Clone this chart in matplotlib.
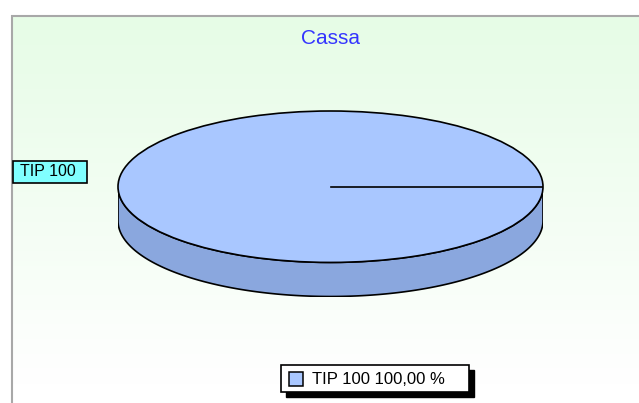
import numpy as np
import matplotlib
matplotlib.use("Agg")
import matplotlib.pyplot as plt
from matplotlib.patches import Polygon, Rectangle

plt.rcParams['font.family'] = ['Liberation Sans', 'DejaVu Sans']

# ---- data ----
title = "Cassa"
categories = ["TIP 100"]
values = [100.0]

TOP_COLOR = "#A9C7FF"
SIDE_COLOR = "#8AA7DE"
LABEL_BG = "#80FFFF"

W, H = 639, 403
fig = plt.figure(figsize=(W / 100, H / 100), dpi=100)
fig.patch.set_facecolor("white")

# background panel in pixel coordinates
bg = fig.add_axes([0, 0, 1, 1])
bg.set_xlim(0, W)
bg.set_ylim(H, 0)
bg.axis("off")
grad = np.linspace(0, 1, 300)
grad = np.clip(grad / 0.95, 0, 1)
top_rgb = np.array([230, 252, 230]) / 255
bot_rgb = np.array([255, 255, 255]) / 255
img = top_rgb[None, None, :] * (1 - grad[:, None, None]) + bot_rgb[None, None, :] * grad[:, None, None]
bg.imshow(img, extent=[11, W, H, 15], aspect="auto", zorder=0)
bg.plot([11.5, 11.5], [H, 15], color="#a8a8a8", lw=1.5, zorder=1, solid_capstyle="butt")
bg.plot([11, W], [15.5, 15.5], color="#a8a8a8", lw=1.5, zorder=1, solid_capstyle="butt")
bg.text(330, 38, title, ha="center", va="center", color="#3434ff", fontsize=15)

# pie category label box
bg.add_patch(Rectangle((12.5, 160.5), 74, 22, facecolor=LABEL_BG, edgecolor="black", lw=1.2, zorder=3))
bg.text(20, 172, categories[0], ha="left", va="center", fontsize=11.5, color="black", zorder=4)

# pie axes (elliptical 3D-looking pie)
depth = 0.45
left_px, right_px, top_px, bottom_px = 118, 543, 111, 296.5
ax = fig.add_axes([left_px / W, (H - bottom_px) / H, (right_px - left_px) / W, (bottom_px - top_px) / H])
ax.patch.set_visible(False)

total = sum(values)
labels_leg = [f"{c} {v / total * 100:.2f} %".replace(".", ",") for c, v in zip(categories, values)]
wedges, _ = ax.pie(values, colors=[TOP_COLOR], startangle=0, counterclock=True,
                   wedgeprops=dict(edgecolor="black", linewidth=1.2, zorder=3))
ax.set_aspect("auto")
ax.set_xlim(-1, 1)
ax.set_ylim(-1 - depth, 1)
ax.axis("off")

# side wall
t = np.linspace(np.pi, 2 * np.pi, 200)
upper = np.column_stack([np.cos(t), np.sin(t)])
lower = np.column_stack([np.cos(t[::-1]), np.sin(t[::-1]) - depth])
side = Polygon(np.vstack([upper, lower]), closed=True, facecolor=SIDE_COLOR,
               edgecolor="black", linewidth=1.2, zorder=2)
ax.add_patch(side)

# slice boundary lines
for w in wedges:
    ang = np.deg2rad(w.theta1)
    ax.plot([0, np.cos(ang)], [0, np.sin(ang)], color="black", lw=1.2, zorder=4)

# legend box with hard shadow (pixel layout)
lx, ly, lw_, lh = 280.5, 364.5, 188, 27
bg.add_patch(Rectangle((lx + 5, ly + 5), lw_, lh, facecolor="black", edgecolor="black", lw=1, zorder=5))
bg.add_patch(Rectangle((lx, ly), lw_, lh, facecolor="white", edgecolor="black", lw=1.2, zorder=6))
for i, (w, lab) in enumerate(zip(wedges, labels_leg)):
    bg.add_patch(Rectangle((lx + 8, ly + 7 + i * 22), 14, 14, facecolor=w.get_facecolor(),
                           edgecolor="black", lw=1.1, zorder=7))
    bg.text(lx + 31, ly + 14.5 + i * 22, lab, ha="left", va="center", fontsize=12,
            color="black", zorder=7)

fig.savefig("out.png", dpi=100)
